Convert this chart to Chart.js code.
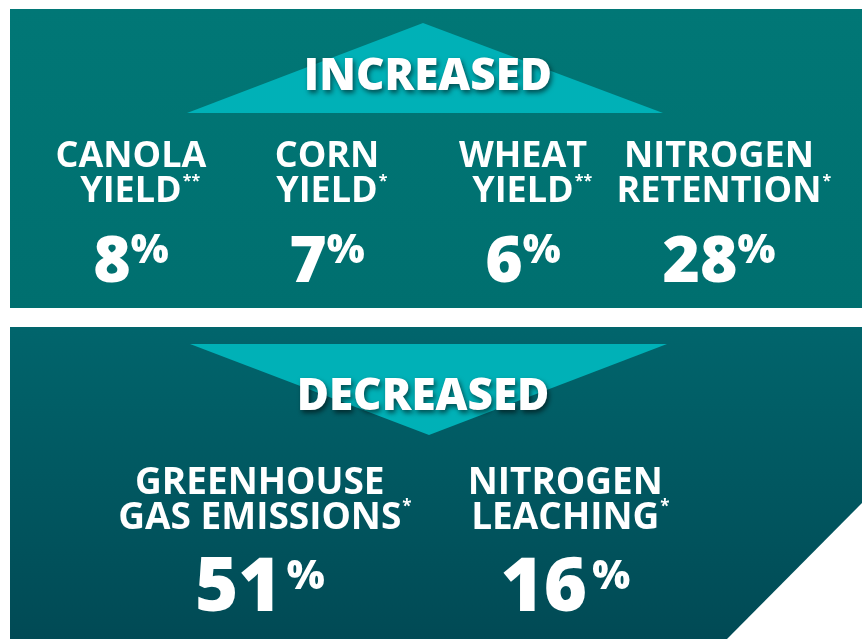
<!DOCTYPE html>
<html>
<head>
<meta charset="utf-8">
<script src="https://cdn.jsdelivr.net/npm/chart.js@4"></script>
<style>
  body { margin: 0; background: #fff; width: 868px; height: 639px; position: relative; overflow: hidden; }
  .panel { position: absolute; left: 10px; width: 852px; }
  #wrapTop { top: 9px; height: 299px; }
  #wrapBottom { top: 327px; height: 312px; }
</style>
</head>
<body>
<div class="panel" id="wrapTop"><canvas id="graficoSube"></canvas></div>
<div class="panel" id="wrapBottom"><canvas id="graficoBaja"></canvas></div>
<script>
// datos
const titulos = ['INCREASED', 'DECREASED'];

const subeCategorias = [['CANOLA', 'YIELD'], ['CORN', 'YIELD'], ['WHEAT', 'YIELD'], ['NITROGEN', 'RETENTION']];
const subeNotas = ['**', '*', '**', '*'];
const subeValores = [8, 7, 6, 28];

const bajaCategorias = [['GREENHOUSE', 'GAS EMISSIONS'], ['NITROGEN', 'LEACHING']];
const bajaNotas = ['*', '*'];
const bajaValores = [51, 16];

const fuente = '"Open Sans", "DejaVu Sans", sans-serif';

// fondo del panel + triangulo + textos
const infografia = {
  id: 'infografia',
  beforeDraw(chart, args, o) {
    const { ctx, width, height } = chart;
    ctx.save();
    const g = ctx.createLinearGradient(0, 0, 0, height);
    g.addColorStop(0, o.color1);
    g.addColorStop(1, o.color2);
    ctx.fillStyle = g;
    ctx.beginPath();
    ctx.moveTo(0, 0);
    ctx.lineTo(width, 0);
    if (o.corte) {
      ctx.lineTo(width, height - o.corte[1]);
      ctx.lineTo(width - o.corte[0], height);
    } else {
      ctx.lineTo(width, height);
    }
    ctx.lineTo(0, height);
    ctx.closePath();
    ctx.fill();

    ctx.fillStyle = '#00b1b7';
    ctx.beginPath();
    o.triangulo.forEach((p, i) => i ? ctx.lineTo(p[0], p[1]) : ctx.moveTo(p[0], p[1]));
    ctx.closePath();
    ctx.fill();

    // titulo con sombra
    ctx.font = '800 ' + o.tituloSize + 'px ' + fuente;
    ctx.textAlign = 'center';
    ctx.textBaseline = 'alphabetic';
    ctx.shadowColor = 'rgba(0,0,0,0.55)';
    ctx.shadowBlur = 5;
    ctx.shadowOffsetX = 2;
    ctx.shadowOffsetY = 3;
    ctx.fillStyle = '#ffffff';
    ctx.fillText(o.titulo, o.tituloX, o.tituloY);
    ctx.restore();
  },
  afterDatasetsDraw(chart, args, o) {
    const { ctx } = chart;
    const x = chart.scales.x;
    const ds = chart.data.datasets[0];
    ctx.save();
    ctx.fillStyle = '#ffffff';
    ctx.textBaseline = 'alphabetic';
    chart.data.labels.forEach((lab, i) => {
      const cx = x.getPixelForValue(i);
      ctx.font = 'bold ' + o.labelSize + 'px ' + fuente;
      ctx.textAlign = 'center';
      ctx.fillText(lab[0], cx, o.linea1);
      ctx.fillText(lab[1], cx, o.linea2);
      const w = ctx.measureText(lab[1]).width;
      ctx.font = 'bold ' + Math.round(o.labelSize * 0.45) + 'px ' + fuente;
      ctx.textAlign = 'left';
      ctx.fillText(o.notas[i], cx + w / 2 + 1, o.linea2 - o.labelSize * 0.45);

      // numero + %
      const num = String(ds.data[i]);
      ctx.font = '800 ' + o.numSize + 'px ' + fuente;
      const wn = ctx.measureText(num).width;
      ctx.font = '800 ' + o.pctSize + 'px ' + fuente;
      const wp = ctx.measureText('%').width;
      const total = wn + o.pctGap + wp;
      const x0 = cx - total / 2;
      ctx.font = '800 ' + o.numSize + 'px ' + fuente;
      ctx.fillText(num, x0, o.numY);
      ctx.font = '800 ' + o.pctSize + 'px ' + fuente;
      ctx.fillText('%', x0 + wn + o.pctGap, o.numY - o.numSize * 0.3);
    });
    ctx.restore();
  }
};

function crearPanel(id, categorias, valores, opciones, padding) {
  const ctx = document.getElementById(id).getContext('2d');
  return new Chart(ctx, {
    type: 'bar',
    data: {
      labels: categorias,
      datasets: [{ data: valores, backgroundColor: 'rgba(0,0,0,0)' }]
    },
    options: {
      responsive: true,
      maintainAspectRatio: false,
      animation: false,
      layout: { padding: padding },
      plugins: {
        legend: { display: false },
        tooltip: { enabled: false },
        infografia: opciones
      },
      scales: {
        x: { display: false },
        y: { display: false, beginAtZero: true }
      }
    },
    plugins: [infografia]
  });
}

crearPanel('graficoSube', subeCategorias, subeValores, {
  color1: '#017776', color2: '#006f6f',
  triangulo: [[413, 14], [653, 104], [177, 104]],
  titulo: titulos[0], tituloSize: 44, tituloX: 418, tituloY: 81,
  notas: subeNotas,
  labelSize: 36, linea1: 158, linea2: 193,
  numSize: 64, pctSize: 40, pctGap: 0, numY: 273
}, { left: 23, right: 45, top: 0, bottom: 0 });

crearPanel('graficoBaja', bajaCategorias, bajaValores, {
  color1: '#01656c', color2: '#014a55',
  corte: [135, 136],
  triangulo: [[180, 17], [657, 17], [419, 108]],
  titulo: titulos[1], tituloSize: 44, tituloX: 413, tituloY: 83,
  notas: bajaNotas,
  labelSize: 37, linea1: 167, linea2: 202,
  numSize: 74, pctSize: 40, pctGap: 5, numY: 284
}, { left: 97, right: 144, top: 0, bottom: 0 });
</script>
</body>
</html>
